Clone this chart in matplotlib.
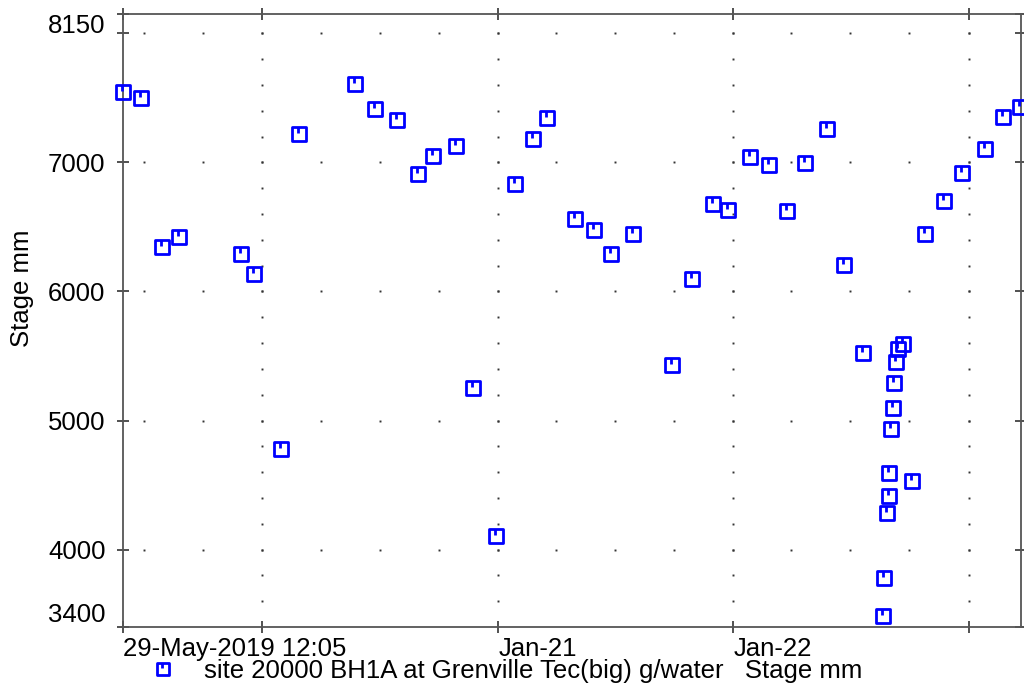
import matplotlib.pyplot as plt
import matplotlib.dates as mdates
from matplotlib.path import Path
import pandas as pd
import numpy as np

plt.rcParams['font.family'] = ['Liberation Sans', 'DejaVu Sans']
plt.rcParams['font.size'] = 18.5

# Data
dates = [
    '2019-05-29 12:05', '2019-06-26', '2019-07-29', '2019-08-24', '2019-11-28',
    '2019-12-19', '2020-01-30', '2020-02-27', '2020-05-24', '2020-06-24',
    '2020-07-28', '2020-08-29', '2020-09-22', '2020-10-28', '2020-11-23',
    '2020-12-29', '2021-01-27', '2021-02-24', '2021-03-18', '2021-04-30',
    '2021-05-30', '2021-06-25', '2021-07-29', '2021-09-27', '2021-10-28',
    '2021-11-30', '2021-12-23', '2022-01-27', '2022-02-25', '2022-03-25',
    '2022-04-22', '2022-05-27', '2022-06-21', '2022-07-21', '2022-08-21',
    '2022-08-23', '2022-08-28', '2022-08-30', '2022-08-31', '2022-09-03',
    '2022-09-05', '2022-09-08', '2022-09-11', '2022-09-14', '2022-09-22',
    '2022-10-06', '2022-10-26', '2022-11-24', '2022-12-22', '2023-01-26',
    '2023-02-23', '2023-03-22',
]
stage_mm = [
    7545, 7499, 6345, 6423, 6294,
    6139, 4776, 7218, 7610, 7417,
    7332, 6908, 7047, 7127, 5249,
    4107, 6836, 7179, 7347, 6565,
    6474, 6289, 6449, 5434, 6095,
    6678, 6629, 7042, 6978, 6622,
    6999, 7257, 6203, 5520, 3488,
    3777, 4285, 4417, 4595, 4933,
    5098, 5287, 5450, 5558, 5592,
    4531, 6449, 6699, 6918, 7102,
    7352, 7429,
]

x_start = '2019-05-29 12:05'
x_end = '2023-03-23'
y_min, y_max = 3400, 8150
y_ticks = [3400, 4000, 5000, 6000, 7000, 8000, 8150]
y_labels = ['3400', '4000', '5000', '6000', '7000', '', '8150']
x_ticks = ['2019-05-29 12:05', '2020-01-01', '2021-01-01', '2022-01-01', '2023-01-01']
x_labels = ['29-May-2019 12:05', '', 'Jan-21', 'Jan-22', '']
legend_label = 'site 20000 BH1A at Grenville Tec(big) g/water   Stage mm'

# square marker with a short stem hanging from the top edge
verts = [(-1, -1), (1, -1), (1, 1), (-1, 1), (-1, -1), (-0.15, 1), (-0.15, 0.1)]
codes = [Path.MOVETO, Path.LINETO, Path.LINETO, Path.LINETO, Path.CLOSEPOLY,
         Path.MOVETO, Path.LINETO]
box_marker = Path(verts, codes)

x = pd.to_datetime(dates, format='ISO8601')
fig = plt.figure(figsize=(10.24, 6.91), dpi=100)
ax = fig.add_axes([0.1201, 0.0926, 0.8767, 0.8871])

xs = mdates.date2num(pd.Timestamp(x_start))
xe = mdates.date2num(pd.Timestamp(x_end))

# dotted grid: dots at quarter starts along horizontal lines,
# dots every 200 mm along vertical (yearly) lines
quarters = mdates.date2num(pd.date_range('2019-07-01', x_end, freq='QS'))
years = mdates.date2num(pd.to_datetime(x_ticks[1:]))
grid_y = [4000, 5000, 6000, 7000, 8000]
for gy in grid_y:
    ax.plot(quarters, [gy] * len(quarters), ls='none', marker='s', ms=1.4,
            color='#333333', mew=0, zorder=1)
for yr in years:
    ys = np.arange(3600, 8001, 200)
    ax.plot([yr] * len(ys), ys, ls='none', marker='s', ms=1.4,
            color='#333333', mew=0, zorder=1)

line, = ax.plot(x, stage_mm, ls='none', marker=box_marker, ms=10.3,
                mfc='none', mec='#0000ff', mew=2.0, zorder=3, clip_on=False,
                label=legend_label)

ax.set_xlim(xs, xe)
ax.set_ylim(y_min, y_max)

ax.set_yticks(y_ticks)
ax.set_yticklabels(y_labels)
ax.set_xticks(mdates.date2num(pd.to_datetime(x_ticks, format='ISO8601')))
ax.set_xticklabels(x_labels, ha='left')
ax.tick_params(direction='inout', length=9, width=1.2, color='#333333',
               top=True, right=True, pad=3)
ax.tick_params(axis='y', pad=8)
ax.get_yticklabels()[0].set_va('bottom')
ax.get_yticklabels()[-1].set_va('top')

for s in ax.spines.values():
    s.set_color('#555555')
    s.set_linewidth(1.3)

ax.set_ylabel('Stage mm')
ax.yaxis.set_label_coords(-0.0995, 0.553)

ax.legend(handles=[line], loc='center left', bbox_to_anchor=(150 / 1024, 1 - 671 / 691),
          bbox_transform=fig.transFigure, frameon=False, numpoints=1,
          handlelength=1.0, handletextpad=1.12, borderpad=0, borderaxespad=0,
          markerscale=0.85)

fig.savefig('out.png', dpi=100)
